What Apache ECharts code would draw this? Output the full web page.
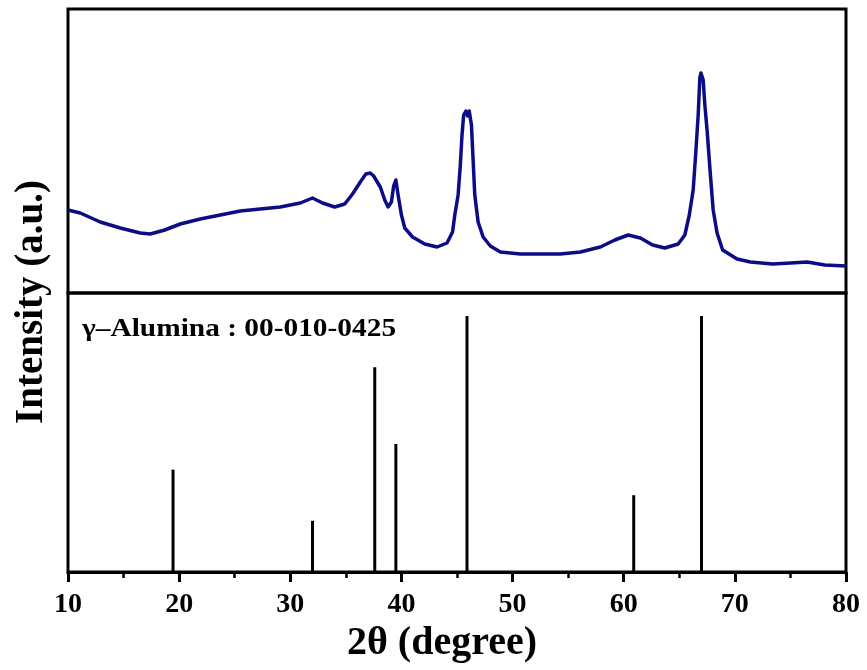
<!DOCTYPE html>
<html>
<head>
<meta charset="utf-8">
<script src="https://cdn.jsdelivr.net/npm/echarts@6/dist/echarts.min.js"></script>
<style>
  html, body { margin: 0; padding: 0; background: #fff; }
  #chart { width: 867px; height: 670px; }
</style>
</head>
<body>
<div id="chart"></div>
<script>
// Measured XRD scan (upper panel): 2θ in degrees, intensity in arbitrary units
const scanTheta = [
  10.0, 11.1, 12.9, 14.7, 16.5, 17.4, 18.7, 20.1, 21.9, 23.7, 25.5, 27.3, 29.1,
  30.9, 32.0, 32.9, 34.0, 34.9, 35.6, 36.3, 36.8, 37.2, 37.5, 38.1, 38.5, 38.8,
  39.1, 39.3, 39.5, 39.7, 40.0, 40.3, 41.0, 42.1, 43.2, 44.1, 44.6, 44.8, 45.1,
  45.3, 45.45, 45.6, 45.8, 45.95, 46.1, 46.3, 46.45, 46.6, 46.9, 47.35, 48.0,
  48.9, 50.7, 52.5, 54.3, 56.1, 57.9, 59.2, 60.4, 61.5, 62.6, 63.7, 64.9, 65.5,
  65.9, 66.25, 66.5, 66.7, 66.85, 66.95, 67.15, 67.3, 67.5, 67.8, 68.05, 68.4,
  68.9, 70.2, 71.4, 73.4, 75.0, 76.5, 78.1, 80.0
];
const scanIntensity = [
  83, 80, 71, 65, 60, 59, 63, 69, 74, 78, 82, 84, 86,
  90, 95, 90, 86, 89, 99, 111, 119, 120, 117, 106, 93, 86,
  91, 107, 113, 98, 78, 65, 56, 49, 46, 50, 61, 78, 98,
  128, 158, 178, 182, 177, 182, 168, 133, 98, 71, 56, 47,
  41, 39, 39, 39, 41, 46, 53, 58, 55, 48, 45, 49, 58,
  78, 103, 143, 178, 215, 220, 213, 188, 163, 118, 83, 60,
  43, 34, 31, 29, 30, 31, 28, 27
];

// Reference pattern γ-Alumina 00-010-0425 (lower panel): 2θ and relative intensity
const refTheta = [19.45, 32.0, 37.6, 39.5, 45.9, 60.9, 67.0];
const refIntensity = [40, 20, 80, 50, 100, 30, 100];

// Bottom axis ticks
const thetaMin = 10, thetaMax = 80, thetaStep = 10;

const serif = '"Liberation Serif", "Times New Roman", serif';
const traceColor = '#0c0c86';

const chart = echarts.init(document.getElementById('chart'), null, { renderer: 'canvas' });

const scanData = scanTheta.map((t, i) => [t, scanIntensity[i]]);
const refData = refTheta.map((t, i) => [t, refIntensity[i]]);

chart.setOption({
  animation: false,
  backgroundColor: '#ffffff',
  grid: [
    { left: 68, right: 21, top: 9, height: 284, show: true, borderColor: '#000', borderWidth: 3, backgroundColor: 'transparent' },
    { left: 68, right: 21, top: 293, height: 279, show: true, borderColor: '#000', borderWidth: 3, backgroundColor: 'transparent' }
  ],
  xAxis: [
    { gridIndex: 0, type: 'value', min: thetaMin, max: thetaMax, show: false },
    {
      gridIndex: 1, type: 'value', min: thetaMin, max: thetaMax, interval: thetaStep,
      axisLine: { show: true, lineStyle: { color: '#000', width: 3 } },
      axisTick: { show: true, inside: false, length: 10, lineStyle: { color: '#000', width: 3 } },
      minorTick: { show: true, splitNumber: 2, length: 6, lineStyle: { color: '#000', width: 2.5 } },
      splitLine: { show: false },
      axisLabel: { color: '#000', fontFamily: serif, fontWeight: 'bold', fontSize: 28, margin: 19 }
    }
  ],
  yAxis: [
    { gridIndex: 0, type: 'value', min: 0, max: 284, show: false },
    { gridIndex: 1, type: 'value', min: 0, max: 109, show: false }
  ],
  series: [
    {
      type: 'line', xAxisIndex: 0, yAxisIndex: 0, data: scanData,
      showSymbol: false, smooth: false,
      lineStyle: { color: traceColor, width: 3.5, join: 'round' }
    },
    {
      type: 'bar', xAxisIndex: 1, yAxisIndex: 1, data: refData,
      barWidth: 3, itemStyle: { color: '#000' }
    }
  ],
  graphic: [
    {
      type: 'text', x: 82, y: 329, scaleX: 1.13,
      style: { text: 'γ–Alumina : 00-010-0425', fill: '#000', font: 'bold 26px ' + serif, textVerticalAlign: 'middle' }
    },
    {
      type: 'text', x: 442, y: 644,
      style: { text: '2θ (degree)', fill: '#000', font: 'bold 40px ' + serif, textAlign: 'center', textVerticalAlign: 'middle' }
    },
    {
      type: 'text', x: 32, y: 302, rotation: Math.PI / 2,
      style: { text: 'Intensity (a.u.)', fill: '#000', font: 'bold 39px ' + serif, textAlign: 'center', textVerticalAlign: 'middle' }
    }
  ]
});
</script>
</body>
</html>
